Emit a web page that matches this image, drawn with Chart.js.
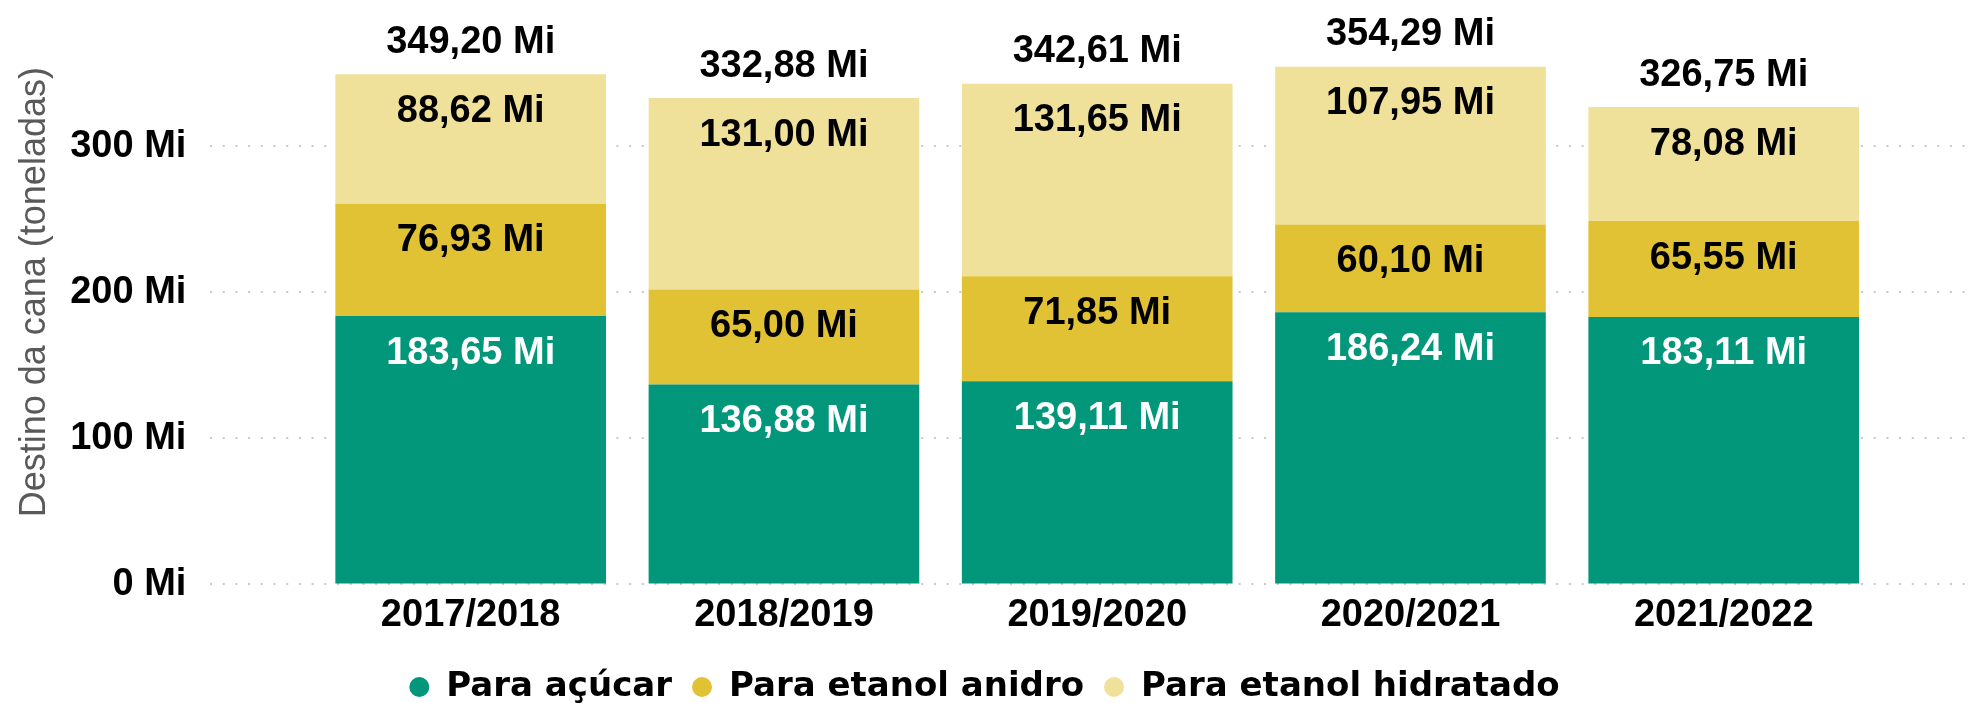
<!DOCTYPE html>
<html>
<head>
<meta charset="utf-8">
<script src="https://cdn.jsdelivr.net/npm/chart.js@4.4.1/dist/chart.umd.min.js"></script>
<style>
  html, body { margin: 0; padding: 0; background: #fff; }
  #wrap { width: 1969px; height: 703px; position: relative; }
</style>
</head>
<body>
<div id="wrap"><canvas id="caneChart"></canvas></div>
<script>
const safras = ["2017/2018", "2018/2019", "2019/2020", "2020/2021", "2021/2022"]
const paraAcucar = [183.65, 136.88, 139.11, 186.24, 183.11]
const paraAnidro = [76.93, 65.0, 71.85, 60.1, 65.55]
const paraHidratado = [88.62, 131.0, 131.65, 107.95, 78.08]
const totais = [349.2, 332.88, 342.61, 354.29, 326.75]
const yTicks = [0, 100, 200, 300]

const Y_MAX = 400
const FONT = "'Liberation Sans', Arial, sans-serif"

const fmt = v => v.toFixed(2).replace(".", ",") + " Mi"
const pontos = arr => arr.map((v, i) => ({ x: i, y: v }))

// rótulos dentro dos segmentos e total acima da barra
const rotulos = {
  id: "rotulos",
  afterDatasetsDraw(chart) {
    const ctx = chart.ctx
    ctx.save()
    ctx.font = "bold 38px " + FONT
    ctx.textAlign = "center"
    ctx.textBaseline = "middle"
    chart.data.datasets.forEach((ds, di) => {
      chart.getDatasetMeta(di).data.forEach((bar, i) => {
        ctx.fillStyle = di === 0 ? "#ffffff" : "#000000"
        ctx.fillText(fmt(ds.data[i].y), bar.x, bar.y + 37)
      })
    })
    const ultimo = chart.getDatasetMeta(chart.data.datasets.length - 1).data
    ctx.fillStyle = "#000000"
    ultimo.forEach((bar, i) => {
      ctx.fillText(fmt(totais[i]), bar.x, bar.y - 32)
    })
    ctx.restore()
  }
}

const config = {
  type: "bar",
  data: {
    datasets: [
      { label: "Para açúcar", data: pontos(paraAcucar), backgroundColor: "#02967A" },
      { label: "Para etanol anidro", data: pontos(paraAnidro), backgroundColor: "#E0C234" },
      { label: "Para etanol hidratado", data: pontos(paraHidratado), backgroundColor: "#EFE09A" }
    ]
  },
  options: {
    responsive: true,
    maintainAspectRatio: false,
    animation: false,
    categoryPercentage: 1,
    barPercentage: 0.864,
    layout: { padding: { left: 0, right: 0, top: 0, bottom: -11 } },
    scales: {
      x: {
        type: "linear",
        stacked: true,
        offset: false,
        min: -0.831,
        max: 4.783,
        grid: { display: false, drawTicks: false },
        border: { display: false },
        afterBuildTicks: axis => {
          axis.ticks = safras.map((s, i) => ({ value: i }))
        },
        afterFit: axis => {
          axis.height += 4
        },
        ticks: {
          autoSkip: false,
          maxRotation: 0,
          padding: 8,
          color: "#000",
          font: { family: FONT, size: 38, weight: "bold" },
          callback: v => safras[v]
        }
      },
      y: {
        stacked: true,
        min: 0,
        max: Y_MAX,
        afterBuildTicks: axis => {
          axis.ticks = yTicks.map(v => ({ value: v }))
        },
        afterFit: axis => {
          axis.paddingTop = 0
          axis.width -= 23
        },
        grid: { color: "#c8c8c8", lineWidth: 2, drawTicks: false },
        border: { display: false, dash: [2, 10.7] },
        ticks: {
          padding: 24,
          color: "#000",
          font: { family: FONT, size: 38, weight: "bold" },
          callback: v => v + " Mi"
        },
        title: {
          display: true,
          text: "Destino da cana (toneladas)",
          color: "#595959",
          font: { family: FONT, size: 36 },
          padding: { top: 13, bottom: 13 }
        }
      }
    },
    plugins: {
      legend: {
        position: "bottom",
        labels: {
          usePointStyle: true,
          pointStyle: "circle",
          boxHeight: 14.14,
          pointStyleWidth: 20,
          padding: 20,
          color: "#000",
          font: { family: "'DejaVu Sans', sans-serif", size: 34, weight: "bold" }
        }
      },
      tooltip: { enabled: false }
    }
  },
  plugins: [rotulos]
}

new Chart(document.getElementById("caneChart"), config)
</script>
</body>
</html>
